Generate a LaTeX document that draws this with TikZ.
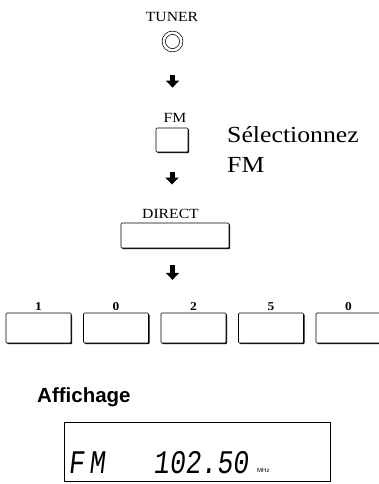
\documentclass[tikz,border=0pt]{standalone}
\usepackage{fontspec}
\setmainfont{Liberation Serif}[FakeStretch=1.12]
\newfontfamily\labelfont{Liberation Sans}
\newfontfamily\lcdfont{Liberation Mono}[FakeSlant=0.12, FakeStretch=0.8]
\newfontfamily\lcdwide{Liberation Mono}[FakeSlant=0.12, FakeStretch=0.8, LetterSpace=15]
\usetikzlibrary{arrows.meta,positioning,shadows}

\begin{document}
\begin{tikzpicture}[
      x=1pt, y=-1pt,
      every node/.style={font=\fontsize{14}{16}\selectfont},
      key/.style={draw, rounded corners=1pt, line width=0.6pt, fill=white,
                  drop shadow={shadow xshift=1pt, shadow yshift=-1pt,
                               fill=black, opacity=1}},
      keylbl/.style={inner sep=1pt, anchor=base},
      ar/.style={-{Triangle[width=13pt,length=7pt]}, line width=5pt}
    ]
    \useasboundingbox (0,0) rectangle (379,484);
    % tuner knob
    \node[keylbl] (tunerlbl) at (172,22) {TUNER};
    \node[circle, draw, line width=0.7pt, double, double distance=2.5pt,
          minimum size=17.5pt, inner sep=0pt] (knob) at (172.5,41.5) {};
    % FM key
    \node[keylbl] (fmlbl) at (175,122) {FM};
    \node[key, minimum width=32pt, minimum height=24pt] (fmkey) at (172,140) {};
    \node[anchor=base west, inner sep=0pt, align=left,
          font=\fontsize{23}{30}\selectfont] (hint) at (227,172) {Sélectionnez\\FM};
    % DIRECT key
    \node[keylbl] (directlbl) at (170.5,218) {DIRECT};
    \node[key, minimum width=108pt, minimum height=25pt] (directkey) at (175,235.5) {};
    % number keys
    \foreach \d [count=\i] in {1,0,2,5,0} {
      \pgfmathsetmacro{\cx}{38.5+77.5*(\i-1)}
      \node[key, minimum width=65pt, minimum height=30pt] (num\i) at (\cx,328) {};
      \node[keylbl, font=\bfseries\fontsize{12}{14}\selectfont] (numlbl\i) at (\cx,310) {\d};
    }
    \draw[ar, shorten <=24.5pt, shorten >=24pt] (knob) -- (knob |- fmlbl.north);
    \draw[ar, shorten <=20pt, shorten >=23pt] (fmkey) -- (fmkey |- directlbl.north);
    \draw[ar, shorten <=17pt, shorten >=21pt] (knob |- directkey.south) -- (knob |- numlbl3.north);
    % display
    \node[anchor=base west, inner sep=0pt,
          font=\labelfont\bfseries\fontsize{20.5}{22}\selectfont] (disptitle) at (37,402) {Affichage};
    \node[draw, line width=0.6pt, minimum width=266pt, minimum height=59pt] (lcd) at (197,451.5) {};
    \node[anchor=base west, inner sep=0pt, font=\lcdwide\fontsize{33}{33}\selectfont]
      (lcdmode) at (68,473) {FM};
    \node[anchor=base west, inner sep=0pt, font=\lcdfont\fontsize{33}{33}\selectfont]
      (lcdfreq) at (153,473) {102.50};
    \node[anchor=base west, inner sep=0pt, font=\labelfont\fontsize{6}{6}\selectfont]
      (lcdunit) at (257,472) {MHz};
  \end{tikzpicture}
\end{document}
